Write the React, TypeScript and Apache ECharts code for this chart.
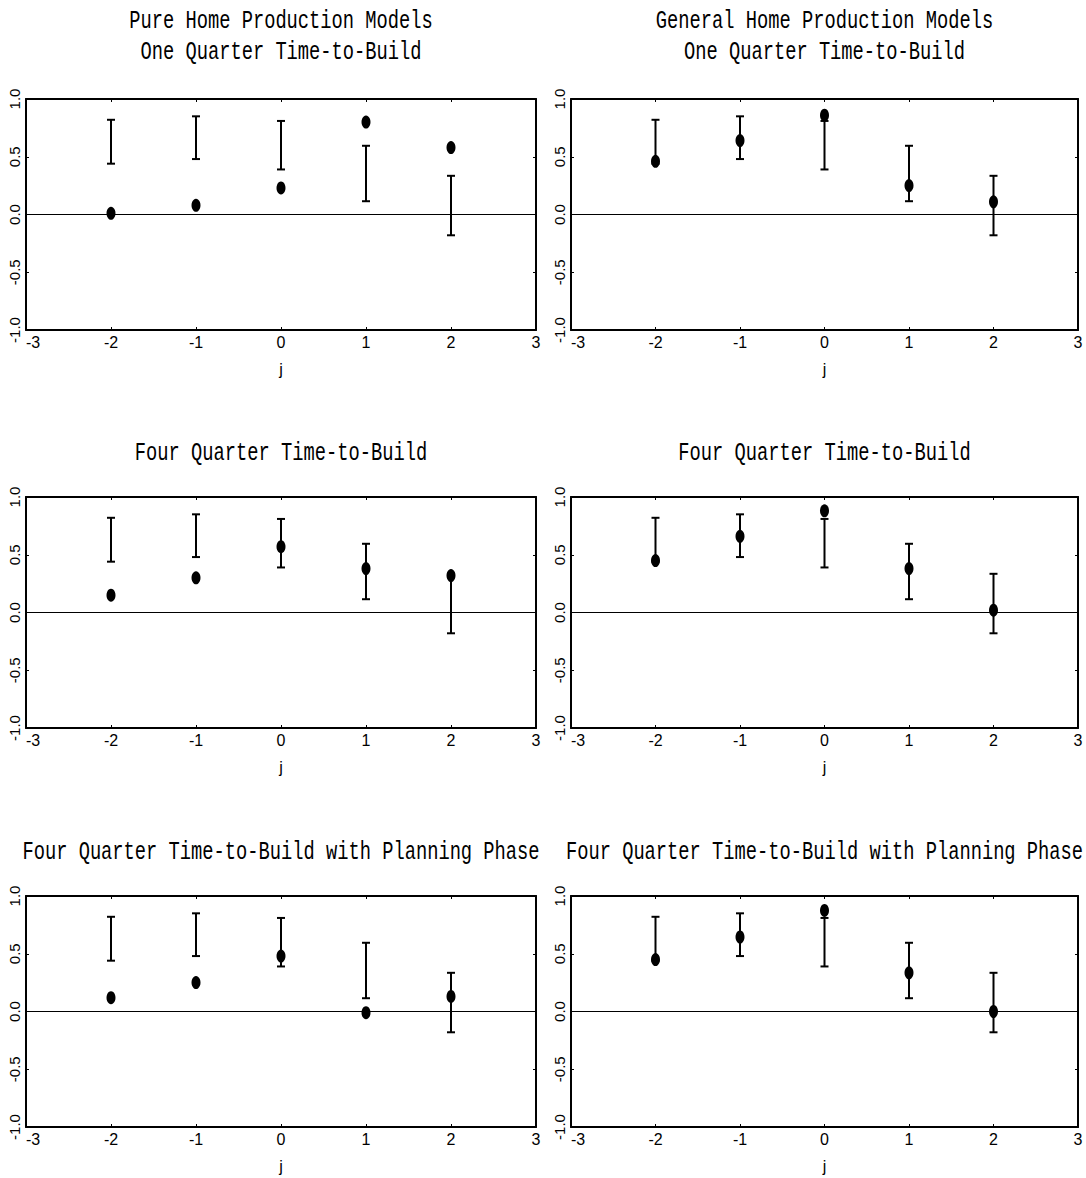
import React, { useEffect, useRef } from "react";
import * as echarts from "echarts";

// ---- data ----
const lags = [-2, -1, 0, 1, 2];
const bandLow = [0.44, 0.48, 0.39, 0.115, -0.18];
const bandHigh = [0.82, 0.85, 0.81, 0.595, 0.335];

const pureOneQuarter = [0.01, 0.08, 0.23, 0.8, 0.58];
const generalOneQuarter = [0.46, 0.64, 0.86, 0.25, 0.11];
const pureFourQuarter = [0.15, 0.3, 0.57, 0.38, 0.32];
const generalFourQuarter = [0.45, 0.66, 0.88, 0.38, 0.02];
const purePlanning = [0.12, 0.25, 0.48, -0.01, 0.13];
const generalPlanning = [0.45, 0.645, 0.875, 0.335, 0.0];

const titlesPure = [
  ["Pure Home Production Models", "One Quarter Time-to-Build"],
  ["Four Quarter Time-to-Build"],
  ["Four Quarter Time-to-Build with Planning Phase"],
];
const titlesGeneral = [
  ["General Home Production Models", "One Quarter Time-to-Build"],
  ["Four Quarter Time-to-Build"],
  ["Four Quarter Time-to-Build with Planning Phase"],
];

const xMin = -3;
const xMax = 3;
const yMin = -1;
const yMax = 1;
const xAxisName = "j";

// ---- layout ----
const colLeft = [26, 571];
const colWidth = [510, 507];
const rowTop = [99, 497, 896];
const gridHeight = 231;
const titleY = [[20, 51], [452], [851]];

const labelFont = "Liberation Sans";
const titleFont = "Liberation Mono";

export default function App() {
  const ref = useRef<HTMLDivElement>(null);

  useEffect(() => {
    document.body.style.margin = "0";
    if (!ref.current) return;
    const chart = echarts.init(ref.current, null, { renderer: "svg" });

    const panels = [
      { row: 0, col: 0, values: pureOneQuarter, title: titlesPure[0] },
      { row: 0, col: 1, values: generalOneQuarter, title: titlesGeneral[0] },
      { row: 1, col: 0, values: pureFourQuarter, title: titlesPure[1] },
      { row: 1, col: 1, values: generalFourQuarter, title: titlesGeneral[1] },
      { row: 2, col: 0, values: purePlanning, title: titlesPure[2] },
      { row: 2, col: 1, values: generalPlanning, title: titlesGeneral[2] },
    ];

    const grid: any[] = [];
    const xAxis: any[] = [];
    const yAxis: any[] = [];
    const series: any[] = [];
    const graphic: any[] = [];

    const axisLine = { show: true, onZero: false, lineStyle: { color: "#000", width: 2 } };
    const axisTick = { show: true, inside: true, length: 3, lineStyle: { color: "#000", width: 1 } };

    panels.forEach((p, i) => {
      grid.push({
        left: colLeft[p.col],
        top: rowTop[p.row],
        width: colWidth[p.col],
        height: gridHeight,
      });
      xAxis.push({
        type: "value",
        gridIndex: i,
        position: "bottom",
        min: xMin,
        max: xMax,
        interval: 1,
        axisLine,
        axisTick,
        splitLine: { show: false },
        axisLabel: {
          show: true,
          color: "#000",
          fontFamily: labelFont,
          fontSize: 16,
          margin: 4,
          alignMinLabel: "left",
          showMinLabel: true,
          showMaxLabel: true,
          formatter: (v: number) => String(v),
        },
        name: xAxisName,
        nameLocation: "middle",
        nameGap: 31,
        nameTextStyle: { color: "#000", fontFamily: labelFont, fontSize: 16 },
      });
      xAxis.push({
        type: "value",
        gridIndex: i,
        position: "top",
        min: xMin,
        max: xMax,
        interval: 1,
        axisLine,
        axisTick,
        splitLine: { show: false },
        axisLabel: { show: false },
      });
      yAxis.push({
        type: "value",
        gridIndex: i,
        position: "left",
        min: yMin,
        max: yMax,
        interval: 0.5,
        axisLine,
        axisTick,
        splitLine: { show: false },
        axisLabel: {
          show: true,
          rotate: 90,
          color: "#000",
          fontFamily: labelFont,
          fontSize: 15,
          margin: 4,
          showMinLabel: true,
          showMaxLabel: true,
          formatter: (v: number) => v.toFixed(1),
        },
      });
      yAxis.push({
        type: "value",
        gridIndex: i,
        position: "right",
        min: yMin,
        max: yMax,
        interval: 0.5,
        axisLine,
        axisTick,
        splitLine: { show: false },
        axisLabel: { show: false },
      });

      // zero reference line
      series.push({
        type: "line",
        xAxisIndex: 2 * i,
        yAxisIndex: 2 * i,
        data: [
          [xMin, 0],
          [xMax, 0],
        ],
        symbol: "none",
        silent: true,
        lineStyle: { color: "#000", width: 1 },
        z: 1,
      });

      // error bars (band)
      series.push({
        type: "custom",
        xAxisIndex: 2 * i,
        yAxisIndex: 2 * i,
        data: lags.map((x, k) => [x, bandLow[k], bandHigh[k]]),
        encode: { x: 0, y: [1, 2] },
        z: 2,
        renderItem: (params: any, api: any) => {
          const x = api.value(0);
          const lo = api.coord([x, api.value(1)]);
          const hi = api.coord([x, api.value(2)]);
          const hw = 4;
          const st = { stroke: "#000", lineWidth: 2, fill: null };
          return {
            type: "group",
            children: [
              { type: "line", shape: { x1: hi[0], y1: hi[1], x2: lo[0], y2: lo[1] }, style: st },
              { type: "line", shape: { x1: hi[0] - hw, y1: hi[1], x2: hi[0] + hw, y2: hi[1] }, style: st },
              { type: "line", shape: { x1: lo[0] - hw, y1: lo[1], x2: lo[0] + hw, y2: lo[1] }, style: st },
            ],
          };
        },
      });

      // model points
      series.push({
        type: "scatter",
        xAxisIndex: 2 * i,
        yAxisIndex: 2 * i,
        data: lags.map((x, k) => [x, p.values[k]]),
        symbol: "circle",
        symbolSize: [9, 13],
        itemStyle: { color: "#000", opacity: 1 },
        z: 3,
      });

      const cx = colLeft[p.col] + colWidth[p.col] / 2;
      p.title.forEach((line, li) => {
        graphic.push({
          type: "text",
          x: cx,
          y: titleY[p.row][li] + 1.5,
          scaleX: 0.75,
          style: {
            text: line,
            fill: "#000",
            font: `25px "${titleFont}"`,
            align: "center",
            verticalAlign: "middle",
          },
        });
      });
    });

    chart.setOption({
      animation: false,
      backgroundColor: "#fff",
      grid,
      xAxis,
      yAxis,
      series,
      graphic,
    });

    return () => chart.dispose();
  }, []);

  return <div ref={ref} style={{ width: 1086, height: 1178 }} />;
}
